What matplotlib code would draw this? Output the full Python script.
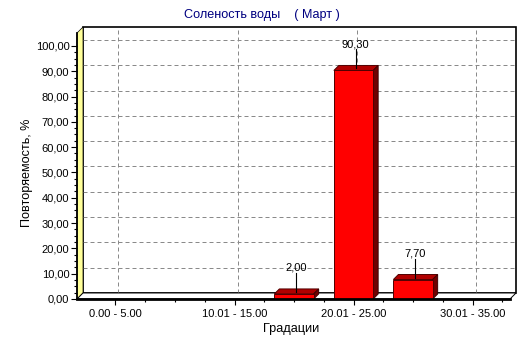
import matplotlib
matplotlib.use('Agg')
import matplotlib.pyplot as plt
import numpy as np
from matplotlib.patches import Polygon, Rectangle
from matplotlib.lines import Line2D
from matplotlib.transforms import Affine2D, IdentityTransform, blended_transform_factory
from matplotlib.ticker import FuncFormatter, FixedLocator

plt.rcParams['font.family'] = ['Liberation Sans', 'DejaVu Sans']
plt.rcParams['font.size'] = 8

# данные
categories = ['0.00 - 5.00', '5.01 - 10.00', '10.01 - 15.00', '15.01 - 20.00',
              '20.01 - 25.00', '25.01 - 30.00', '30.01 - 35.00']
values = [0.0, 0.0, 0.0, 2.00, 90.30, 7.70, 0.0]
title = 'Соленость воды    ( Март )'
ylabel = 'Повторяемость, %'
xlabel = 'Градации'

W, H = 532, 343
D = 6  # глубина 3D, пикселей

fig = plt.figure(figsize=(W / 100, H / 100), dpi=100)
fig.patch.set_facecolor('white')
ax = fig.add_axes([77 / W, (H - 299) / H, 433 / W, 266 / H])
ax.set_xlim(-0.647, 6.63)
ax.set_ylim(0, 105.1)
ax.patch.set_visible(False)

off = Affine2D().translate(D, D)
back = ax.transAxes + off

# задняя стенка
ax.add_patch(Rectangle((0, 0), 1, 1, transform=back, facecolor='white',
                       edgecolor='black', lw=1.2, zorder=0, clip_on=False))

def disp(pts, tr):
    return tr.transform(np.array(pts))

# левая стенка (жёлтая)
fl = disp([(0, 0), (0, 1)], ax.transAxes)
left_wall = [fl[0], fl[1], fl[1] + D, fl[0] + D]
ax.add_patch(Polygon(left_wall, closed=True, transform=IdentityTransform(),
                     facecolor='#FFFF99', edgecolor='black', lw=0.5,
                     zorder=1, clip_on=False))
# пол
fb = disp([(0, 0), (1, 0)], ax.transAxes)
floor = [fb[0], fb[1], fb[1] + D, fb[0] + D]
ax.add_patch(Polygon(floor, closed=True, transform=IdentityTransform(),
                     facecolor='white', edgecolor='black', lw=0.7,
                     zorder=1, clip_on=False))

# сетка на задней стенке
gy = blended_transform_factory(ax.transAxes, ax.transData) + off
for yv in np.arange(0, 101, 10):
    ax.plot([0, 1], [yv, yv], transform=gy, color='#8a8a8a', lw=0.72,
            ls=(0, (4, 3)), zorder=0.5, clip_on=False)
gx = blended_transform_factory(ax.transData, ax.transAxes) + Affine2D().translate(D - 3, D)
for xv in [0, 2, 4, 6]:
    ax.plot([xv, xv], [0, 1], transform=gx, color='#8a8a8a', lw=0.72,
            ls=(0, (4, 3)), zorder=0.5, clip_on=False)

# столбцы
x = np.arange(len(categories))
bw = 0.66
vals = np.array(values)
nz = vals > 0
ax.bar(x[nz], vals[nz], width=bw, color='#FF0000', edgecolor='#500000',
       lw=0.7, zorder=3)
d = 5
for xi, v in zip(x[nz], vals[nz]):
    p = disp([(xi - bw / 2, v), (xi + bw / 2, v), (xi + bw / 2, 0)], ax.transData)
    top = [p[0], p[1], p[1] + d, p[0] + d]
    side = [p[1], p[2], p[2] + d, p[1] + d]
    ax.add_patch(Polygon(top, closed=True, transform=IdentityTransform(),
                         facecolor='#B00000', edgecolor='#500000', lw=0.7,
                         zorder=2.9, clip_on=False))
    ax.add_patch(Polygon(side, closed=True, transform=IdentityTransform(),
                         facecolor='#700000', edgecolor='#400000', lw=0.7,
                         zorder=2.9, clip_on=False))
    c = disp([(xi, v)], ax.transData)[0]
    ax.add_line(Line2D([c[0] + 2, c[0] + 2], [c[1] + 2, c[1] + 21],
                       transform=IdentityTransform(), color='black', lw=0.8,
                       zorder=4, clip_on=False))
    ax.text(c[0] + 2, c[1] + 26, f'{v:.2f}'.replace('.', ','),
            transform=IdentityTransform(), ha='center', va='center',
            fontsize=8, zorder=5)

# оси
for s in ['top', 'right']:
    ax.spines[s].set_visible(False)
ax.spines['left'].set_linewidth(1.3)
ax.spines['bottom'].set_linewidth(2.0)
ax.spines['left'].set_zorder(6)
ax.spines['bottom'].set_zorder(6)

ax.yaxis.set_major_locator(FixedLocator(np.arange(0, 101, 10)))
ax.yaxis.set_minor_locator(FixedLocator(np.arange(0, 101, 2.5)))
ax.yaxis.set_major_formatter(FuncFormatter(lambda v, p: f'{v:.2f}'.replace('.', ',')))
ax.set_xticks([0, 2, 4, 6])
ax.set_xticklabels(categories[::2])
ax.xaxis.set_minor_locator(FixedLocator(np.arange(0.5, 6.6, 0.5)))
ax.tick_params(axis='both', which='major', direction='out', length=4,
               width=0.8, pad=1.5, labelsize=8)
ax.tick_params(axis='both', which='minor', direction='out', length=2, width=0.8)
ax.tick_params(axis='x', which='major', pad=3)

fig.text(261.5 / W, 1 - 15 / H, title, color='#000080', ha='center',
         va='center', fontsize=9.1)
fig.text(27 / W, 1 - 173 / H, ylabel, rotation=90, ha='center', va='center',
         fontsize=9.1)
fig.text(291.5 / W, 1 - 329 / H, xlabel, ha='center', va='center', fontsize=9.2)

fig.savefig('out.png', dpi=100)
